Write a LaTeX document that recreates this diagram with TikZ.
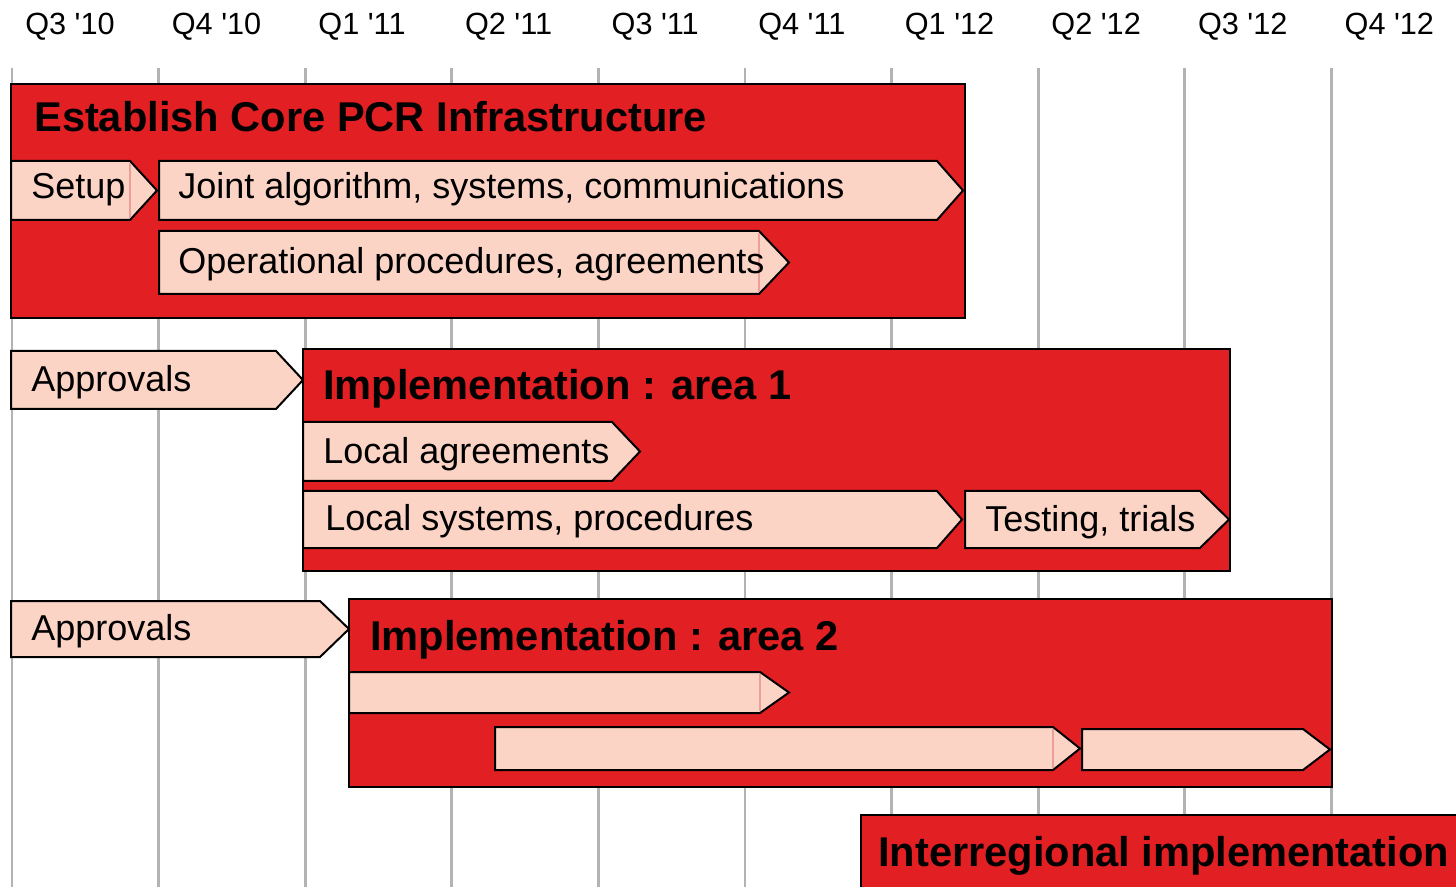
\documentclass[tikz,border=0pt]{standalone}
\usepackage{fontspec}
\setmainfont{Liberation Sans}[Ligatures=TeXOff]
\definecolor{boxred}{RGB}{226,31,34}
\definecolor{barpink}{RGB}{252,212,198}
\definecolor{gridgray}{RGB}{179,179,179}
\definecolor{seamcol}{RGB}{236,158,152}
\tikzset{
  gridline/.style={draw=gridgray, line width=2.2pt},
  phase/.style={fill=boxred, draw=black, line width=1.8pt},
  taskshape/.style={fill=barpink, draw=black, line width=1.5pt, line join=miter},
  seam/.style={draw=seamcol, line width=0.8pt},
  quarter/.style={anchor=base west, inner sep=0pt, font=\fontsize{23}{26}\selectfont},
  phasetitle/.style={anchor=base west, inner sep=0pt, font=\fontsize{31.2}{34}\selectfont\bfseries},
  tasklabel/.style={anchor=base west, inner sep=0pt, font=\fontsize{27}{30}\selectfont},
}
% #1 left, #2 tip start, #3 tip point, #4 top, #5 bottom
\newcommand\drawtask[5]{%
  \path[taskshape] (#1,#4) -- (#2,#4) -- (#3,{(#4+#5)/2}) -- (#2,#5) -- (#1,#5) -- cycle;}
\begin{document}
\begin{tikzpicture}[x=0.75pt,y=-0.75pt]
\useasboundingbox (0,0) rectangle (1456,887);
\clip (0,0) rectangle (1456,887);
% grid
\foreach \i in {0,...,9}
  \draw[gridline] ({12+146.6*\i},68) -- ({12+146.6*\i},887);
% quarter labels
\foreach \q [count=\i from 0] in {Q3 '10,Q4 '10,Q1 '11,Q2 '11,Q3 '11,Q4 '11,Q1 '12,Q2 '12,Q3 '12,Q4 '12}
  \node[quarter] (q\i) at ({25+146.6*\i},35) {\q};
% phase boxes
\draw[phase] (11,84) rectangle (965,318);
\draw[phase] (303,349) rectangle (1230,571);
\draw[phase] (349,599) rectangle (1332,787);
\draw[phase] (861,815) rectangle (1475,905);
% task bars
\drawtask{11}{130}{157}{161}{220}
\drawtask{159}{937}{963}{161}{220}
\drawtask{159}{759}{789}{231}{294}
\drawtask{11}{276}{303}{351}{409}
\drawtask{303}{612}{640}{422}{481}
\drawtask{303}{937}{962}{491}{548}
\drawtask{965}{1200}{1229}{491}{548}
\drawtask{11}{320}{349}{601}{657}
\drawtask{349}{760}{789}{672}{713}
\drawtask{495}{1053}{1080}{727}{770}
\drawtask{1082}{1303}{1330}{729}{770}
% seams
\draw[seam] (130,163) -- (130,218);
\draw[seam] (759,233) -- (759,292);
\draw[seam] (760,674) -- (760,711);
\draw[seam] (1053,729) -- (1053,768);
% titles
\node[phasetitle] (t1) at (34,132) {Establish Core PCR Infrastructure};
\node[phasetitle] (t2) at (323,400) {Implementation : area 1};
\node[phasetitle] (t3) at (370,650) {Implementation : area 2};
\node[phasetitle] (t4) at (878,866) {Interregional implementation};
% task labels
\node[tasklabel] (l1) at (31,199) {Setup};
\node[tasklabel] (l2) at (178,199) {Joint algorithm, systems, communications};
\node[tasklabel] (l3) at (178,274) {Operational procedures, agreements};
\node[tasklabel] (l4) at (31,392) {Approvals};
\node[tasklabel] (l5) at (323,464) {Local agreements};
\node[tasklabel] (l6) at (325,531) {Local systems, procedures};
\node[tasklabel] (l7) at (985,532) {Testing, trials};
\node[tasklabel] (l8) at (31,640) {Approvals};
\end{tikzpicture}
\end{document}
